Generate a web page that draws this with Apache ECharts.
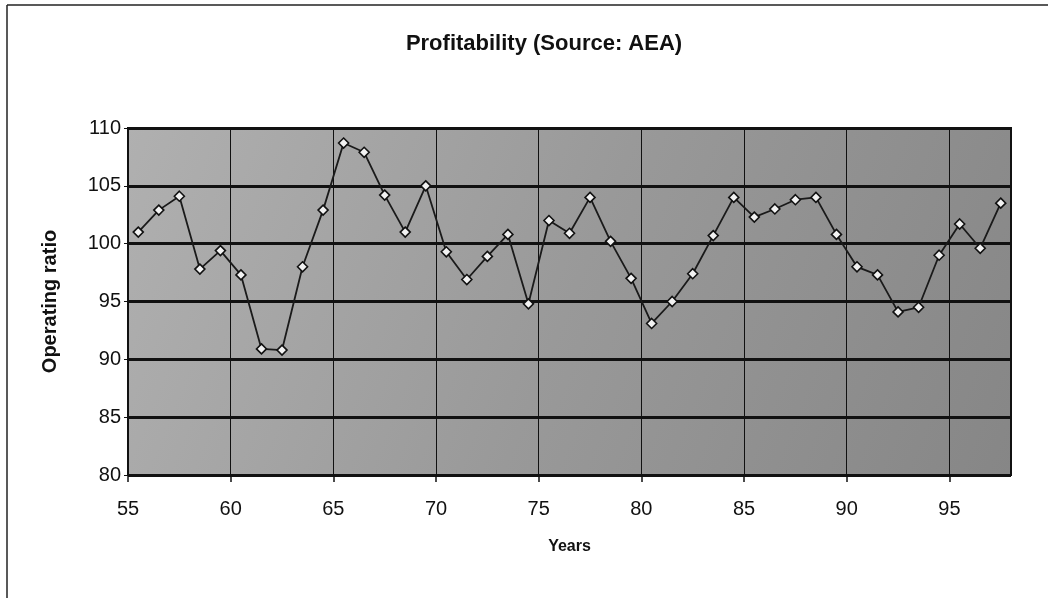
<!DOCTYPE html>
<html>
<head>
<meta charset="utf-8">
<script src="https://cdn.jsdelivr.net/npm/echarts@6/dist/echarts.min.js"></script>
<style>
  html, body { margin: 0; padding: 0; background: #fff; }
  #chart { width: 1048px; height: 598px; }
</style>
</head>
<body>
<div id="chart"></div>
<script>
// years (19xx) and operating ratio
const years = [55, 56, 57, 58, 59, 60, 61, 62, 63, 64, 65, 66, 67, 68, 69,
  70, 71, 72, 73, 74, 75, 76, 77, 78, 79, 80, 81, 82, 83, 84, 85, 86, 87,
  88, 89, 90, 91, 92, 93, 94, 95, 96, 97];
const ratio = [101.0, 102.9, 104.1, 97.8, 99.4, 97.3, 90.9, 90.8, 98.0, 102.9,
  108.7, 107.9, 104.2, 101.0, 105.0, 99.3, 96.9, 98.9, 100.8, 94.8, 102.0,
  100.9, 104.0, 100.2, 97.0, 93.1, 95.0, 97.4, 100.7, 104.0, 102.3, 103.0,
  103.8, 104.0, 100.8, 98.0, 97.3, 94.1, 94.5, 99.0, 101.7, 99.6, 103.5];
const yearTicks = [55, 60, 65, 70, 75, 80, 85, 90, 95];

// each year is plotted in the middle of its slot
const points = years.map((y, i) => [y + 0.5, ratio[i]]);

const chart = echarts.init(document.getElementById("chart"), null, { renderer: "canvas" });
const font = "'Liberation Sans', Arial, sans-serif";

chart.setOption({
  animation: false,
  backgroundColor: "#fff",
  title: {
    text: "Profitability (Source: AEA)",
    left: 539,
    top: 28,
    textAlign: "center",
    textStyle: { fontFamily: font, fontSize: 22, fontWeight: "bold", color: "#111" },
  },
  graphic: [
    { type: "line", shape: { x1: 7, y1: 5, x2: 1048, y2: 5 }, style: { stroke: "#222", lineWidth: 1.5 } },
    { type: "line", shape: { x1: 7, y1: 5, x2: 7, y2: 598 }, style: { stroke: "#222", lineWidth: 1.5 } },
  ],
  grid: {
    left: 128,
    right: 37,
    top: 128,
    bottom: 123,
    show: true,
    borderColor: "#111",
    borderWidth: 2,
    backgroundColor: new echarts.graphic.LinearGradient(0, 0, 1, 1, [
      { offset: 0, color: "#b0b0b0" },
      { offset: 0.5, color: "#999999" },
      { offset: 1, color: "#868686" },
    ]),
  },
  xAxis: {
    type: "value",
    min: 55,
    max: 98,
    interval: 5,
    name: "Years",
    nameLocation: "middle",
    nameGap: 64,
    nameTextStyle: { fontFamily: font, fontSize: 16, fontWeight: "bold", color: "#111" },
    axisLine: { show: true, lineStyle: { color: "#111", width: 2 } },
    axisTick: { show: true, length: 7, lineStyle: { color: "#111", width: 1.5 } },
    axisLabel: {
      margin: 24,
      fontFamily: font,
      fontSize: 20,
      color: "#111",
      showMaxLabel: false,
      formatter: (v) => (yearTicks.includes(v) ? String(v) : ""),
    },
    splitLine: { show: true, lineStyle: { color: "#111", width: 1 } },
  },
  yAxis: {
    type: "value",
    min: 80,
    max: 110,
    interval: 5,
    name: "Operating ratio",
    nameLocation: "middle",
    nameGap: 68,
    nameTextStyle: { fontFamily: font, fontSize: 20, fontWeight: "bold", color: "#111" },
    axisLine: { show: true, lineStyle: { color: "#111", width: 2 } },
    axisTick: { show: true, length: 4, lineStyle: { color: "#111" } },
    axisLabel: { margin: 7, fontFamily: font, fontSize: 20, color: "#111" },
    splitLine: { show: true, lineStyle: { color: "#111", width: 3 } },
  },
  series: [
    {
      name: "Operating ratio",
      type: "line",
      data: points,
      symbol: "diamond",
      symbolSize: 10,
      lineStyle: { color: "#1a1a1a", width: 1.8 },
      itemStyle: { color: "#f2f2f2", borderColor: "#111", borderWidth: 1.6 },
    },
  ],
});
</script>
</body>
</html>
